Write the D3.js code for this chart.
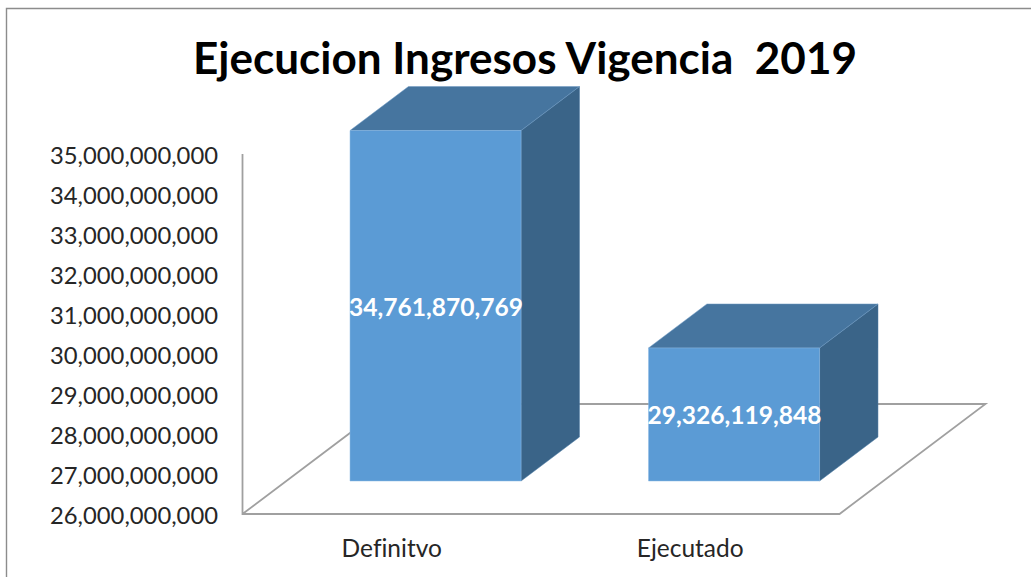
<!DOCTYPE html>
<html><head><meta charset="utf-8">
<script src="https://cdnjs.cloudflare.com/ajax/libs/d3/7.8.5/d3.min.js"></script>
<style>html,body{margin:0;padding:0;background:#fff;overflow:hidden}svg{display:block;font-family:Lato,"Open Sans",sans-serif;font-variant-ligatures:none}</style>
</head><body><svg id="c" width="1031" height="577"></svg>
<script>
const chartTitle = "Ejecucion Ingresos Vigencia\u00a0\u00a02019";
const categories = ["Definitvo", "Ejecutado"];
const values = [34761870769, 29326119848];
const tickValues = [26e9, 27e9, 28e9, 29e9, 30e9, 31e9, 32e9, 33e9, 34e9, 35e9];

const svg = d3.select("#c");
const fmt = d3.format(",");
const y = d3.scaleLinear().domain([26e9, 35e9]).range([514, 154]);
const x = d3.scaleBand().domain(categories).range([242.5, 839.5]).paddingInner(0.427).paddingOuter(0.2135);
const floorDX = 146, floorDY = -110, d0 = 0.3, d1 = 0.7;
const px = (X, d) => X + d * floorDX;
const py = (Y, d) => Y + d * floorDY;
const base = y.domain()[0], top_ = y.domain()[1];

// frame
svg.append("path").attr("d", "M6.5,577V8.5H1031").attr("fill", "none").attr("stroke", "#8c8c8c").attr("stroke-width", 1.4);

// walls and floor
const gray = "#a0a0a0";
const [xa, xb] = x.range();
svg.append("path").attr("fill", "none").attr("stroke", gray).attr("stroke-width", 1.8)
  .attr("d", d3.line()([[px(xa,0),y(top_)],[px(xa,0),y(base)],[px(xb,0),y(base)],[px(xb,1),py(y(base),1)],[px(xa,1),py(y(base),1)],[px(xa,0),y(base)]]));

// bars
const bars = svg.selectAll("g.bar").data(categories.map((c,i)=>({c,v:values[i]}))).join("g").attr("class","bar");
const poly = pts => d3.line()(pts) + "Z";
bars.each(function(d){
  const g = d3.select(this);
  const l = x(d.c), r = l + x.bandwidth();
  const t = y(d.v), b = y(base);
  g.append("path").attr("fill","#3a6488").attr("stroke","#4a7aa5").attr("stroke-width",0.5)
    .attr("d", poly([[px(r,d0),py(t,d0)],[px(r,d1),py(t,d1)],[px(r,d1),py(b,d1)],[px(r,d0),py(b,d0)]]));
  g.append("path").attr("fill","#46759f").attr("stroke","#6f9bc4").attr("stroke-width",0.5)
    .attr("d", poly([[px(l,d0),py(t,d0)],[px(l,d1),py(t,d1)],[px(r,d1),py(t,d1)],[px(r,d0),py(t,d0)]]));
  g.append("path").attr("fill","#5b9bd5").attr("stroke","#8ab8e2").attr("stroke-width",0.5)
    .attr("d", poly([[px(l,d0),py(t,d0)],[px(r,d0),py(t,d0)],[px(r,d0),py(b,d0)],[px(l,d0),py(b,d0)]]));
  g.append("text").attr("x", px((l+r)/2,d0)+0.5).attr("y", py((t+b)/2,d0)+10)
    .attr("text-anchor","middle").attr("fill","#fff").attr("font-weight",700).attr("font-size",24)
    .attr("textLength",174).attr("lengthAdjust","spacingAndGlyphs").text(fmt(d.v));
});

// y axis labels
svg.selectAll("text.yt").data(tickValues).join("text").attr("class","yt")
  .attr("x",218).attr("y",v=>y(v)+9.5).attr("text-anchor","end").attr("fill","#262626")
  .attr("font-size",24).attr("textLength",168).attr("lengthAdjust","spacingAndGlyphs").text(fmt);

// x labels
svg.selectAll("text.xt").data(categories).join("text").attr("class","xt")
  .attr("x",c=>x(c)+x.bandwidth()/2).attr("y",557).attr("text-anchor","middle").attr("fill","#262626")
  .attr("font-size",24.5).text(c=>c);

// title
svg.append("text").attr("x",525).attr("y",74).attr("text-anchor","middle").attr("fill","#000")
  .attr("font-weight",700).attr("font-size",43).attr("textLength",664).attr("lengthAdjust","spacingAndGlyphs").text(chartTitle);
</script></body></html>
